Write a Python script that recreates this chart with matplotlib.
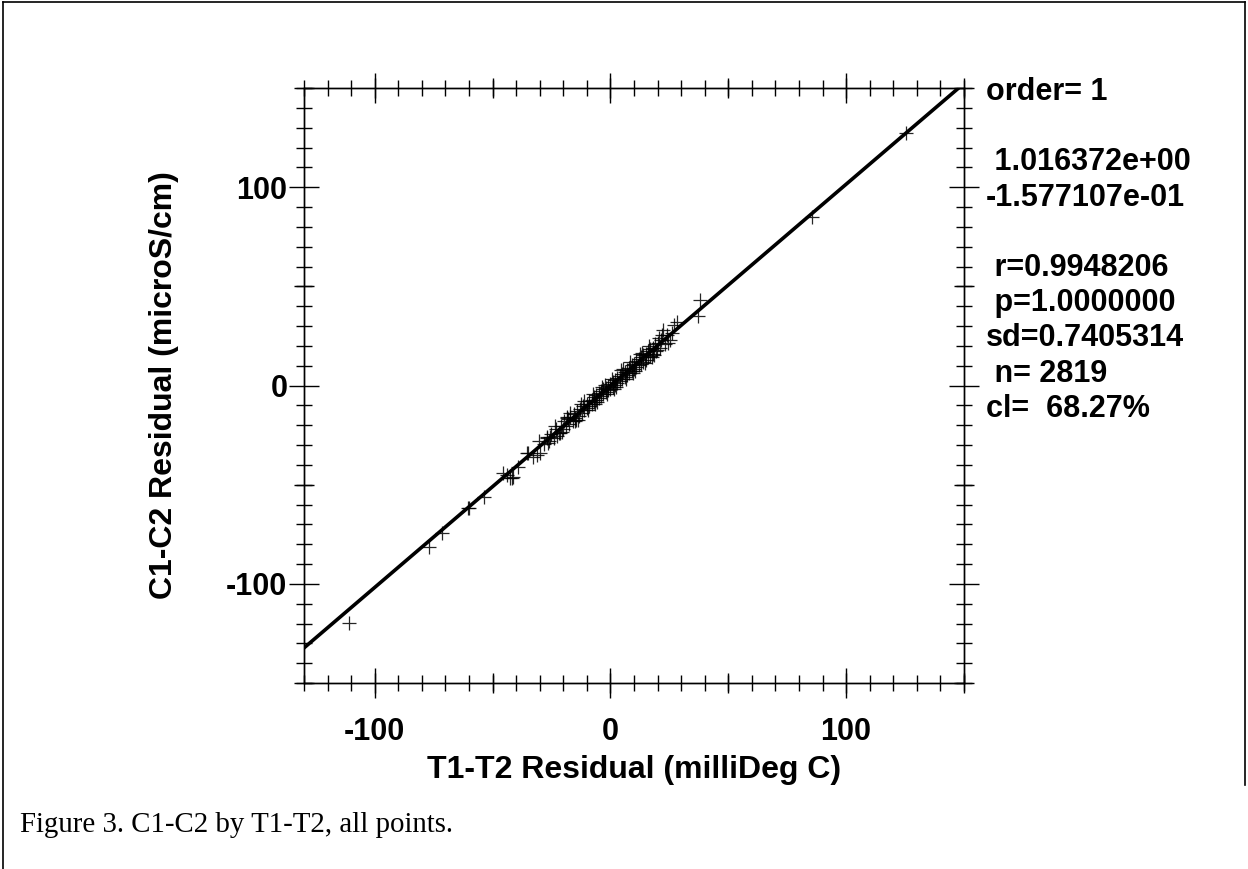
import numpy as np
import matplotlib.pyplot as plt
from matplotlib.lines import Line2D
from matplotlib.ticker import MultipleLocator

# fit coefficients (printed on the right)
slope = 1.016372
intercept = -0.1577107
stats = ['order= 1', '', ' 1.016372e+00', '-1.577107e-01', '',
         ' r=0.9948206', ' p=1.0000000', 'sd=0.7405314', ' n= 2819', 'cl=  68.27%']

# residual pairs (outliers + the dense band)
t_res = [125.3, 85.4, 38.0, 37.3, 28.1, 26.0, 22.4, 25.3, 19.6,
         -110.8, -76.8, -71.6, -60.3, -59.9, -53.6, -45.4, -44.0, -42.6, -41.9, -41.2,
         -39.1, -35.5, -34.8, -32.7, -31.3, -29.9, -27.0, -25.6, -21.4, -18.5, -13.6,
         -28, -27, -26, -25, -24, -23, -22, -21, -20, -19.5, -19, -18, -17.5, -17,
         -16, -15.5, -15, -14, -13.5, -13, -12, -11.5, -11, -10, -10, -9, -9, -8, -8,
         -7, -7, -6, -6, -5, -5, -4, -4, -3, -3, -2, -2, -1, -1, 0, 0, 1, 1, 2, 2,
         3, 3, 4, 4, 5, 5, 6, 6, 7, 7, 8, 8, 9, 9, 10, 10, 11, 11, 12, 12, 13, 13,
         14, 14, 15, 15, 16, 16, 17, 17, 18, 18, 19, 19.5, 20, 21, 21.5, 23, 24,
         -30.5, -26.5, -23.5, -20.5, -17, -14.5, -12.5, -9.5, -7.5, -5.5, -3.5, -1.5,
         0.5, 2.5, 4.5, 6.5, 8.5, 10.5, 12.5, 14.5, 16.5, 18.5, 22, 24.5, 27,
         -22.5, -18.5, -15, -11, -6.5, -2.5, 1.5, 5.5, 9.5, 13.5, 17.5, 20.5]
c_res = [127.2, 85.1, 43.1, 35.0, 32.2, 26.5, 28.0, 22.9, 17.9,
         -119.6, -81.6, -74.5, -61.6, -61.9, -56.4, -44.3, -45.1, -46.8, -46.8, -46.0,
         -40.9, -34.2, -34.2, -35.9, -35.0, -34.2, -26.6, -25.8, -24.1, -16.5, -17.4,
         -29.5, -26, -28, -24.5, -26.5, -22, -24, -20.5, -22, -18, -20.5, -17, -19.5, -16,
         -18, -14.5, -16.5, -13, -15.5, -12, -14, -10.5, -12.5, -9.5, -11.5, -8, -10.5, -7.5, -9.5,
         -6, -8.5, -5, -7.5, -4, -6.5, -3, -5.5, -2, -4.5, -1, -3.5, 0, -2.5, 1, -1.5, 2, -0.5, 3, 0.5,
         4, 1.5, 5, 2.5, 6, 3.5, 7, 4.5, 8, 5.5, 9, 6.5, 10.5, 7.5, 11, 8.5, 12.5, 9.5, 13.5, 10.5, 14.5, 11,
         15.5, 12, 16, 13, 17.5, 14.5, 18.5, 15, 19, 16, 21, 17.5, 21.5, 19, 23, 21, 25.5,
         -28, -29, -20.5, -23.5, -14, -17.5, -9.5, -12.5, -4.5, -8.5, -0.5, -4.5,
         3.5, -0.5, 8, 3.5, 12, 7.5, 16, 11.5, 20, 15.5, 25.5, 21.5, 30.5,
         -25.5, -16, -18, -8, -9.5, 0.5, -1.5, 8.5, 6.5, 16.5, 14.5, 24]

xlim = (-130, 150)
ylim = (-150, 150)

plt.rcParams['font.family'] = ['Liberation Sans', 'DejaVu Sans']
plt.rcParams['font.weight'] = 'bold'
plt.rcParams['axes.unicode_minus'] = False

fig = plt.figure(figsize=(12.48, 8.69), dpi=100)
ax = fig.add_axes([0.2436, 0.2140, 0.5288, 0.6847])

ax.plot(t_res, c_res, '+', color='black', ms=10.5, mew=0.9, alpha=0.85)
xx = np.array(xlim, dtype=float)
ax.plot(xx, slope * xx + intercept, color='black', lw=2.6)

ax.set_xlim(xlim)
ax.set_ylim(ylim)
ax.xaxis.set_major_locator(MultipleLocator(100))
ax.yaxis.set_major_locator(MultipleLocator(100))
ax.xaxis.set_minor_locator(MultipleLocator(10))
ax.yaxis.set_minor_locator(MultipleLocator(10))
ax.tick_params(which='both', direction='inout', top=True, right=True, width=1.0, color='black')
ax.tick_params(which='major', length=21, labelsize=22)
ax.tick_params(which='minor', length=11)
ax.tick_params(axis='x', which='major', pad=14)
ax.tick_params(axis='y', which='major', pad=1.5)
for s in ax.spines.values():
    s.set_linewidth(1.0)

# medium ticks at the 50s
for side in ['bottom', 'top']:
    sec = ax.secondary_xaxis(side)
    sec.set_xticks([-100, -50, 0, 50, 100, 150])
    sec.tick_params(direction='inout', length=15, width=1.0, labelbottom=False, labeltop=False)
    sec.spines[side].set_linewidth(1.0)
for side in ['left', 'right']:
    sec = ax.secondary_yaxis(side)
    sec.set_yticks([-150, -50, 50, 150])
    sec.tick_params(direction='inout', length=15, width=1.0, labelleft=False, labelright=False)
    sec.spines[side].set_linewidth(1.0)

ax.set_xlabel('T1-T2 Residual (milliDeg C)', fontsize=23, fontweight='bold', labelpad=6)
ax.set_ylabel('C1-C2 Residual (microS/cm)', fontsize=23, fontweight='bold')
ax.yaxis.set_label_coords(-0.19, 0.5)

for i, line in enumerate(stats):
    if line:
        fig.text(986 / 1248, 1 - (92 + 35.2 * i) / 869, line, fontsize=22,
                 fontweight='bold', va='center', ha='left')

fig.text(20 / 1248, 1 - 825 / 869, 'Figure 3. C1-C2 by T1-T2, all points.',
         fontsize=20.8, family=['Liberation Serif', 'DejaVu Serif'], fontweight='normal',
         va='center', ha='left')

# page frame
fig.add_artist(Line2D([3 / 1248, 1245 / 1248], [1 - 2 / 869, 1 - 2 / 869], color='black', lw=1.2))
fig.add_artist(Line2D([3 / 1248, 3 / 1248], [0, 1 - 2 / 869], color='black', lw=1.2))
fig.add_artist(Line2D([1245 / 1248, 1245 / 1248], [1 - 785 / 869, 1 - 2 / 869], color='black', lw=1.2))

fig.savefig('out.png', dpi=100)
